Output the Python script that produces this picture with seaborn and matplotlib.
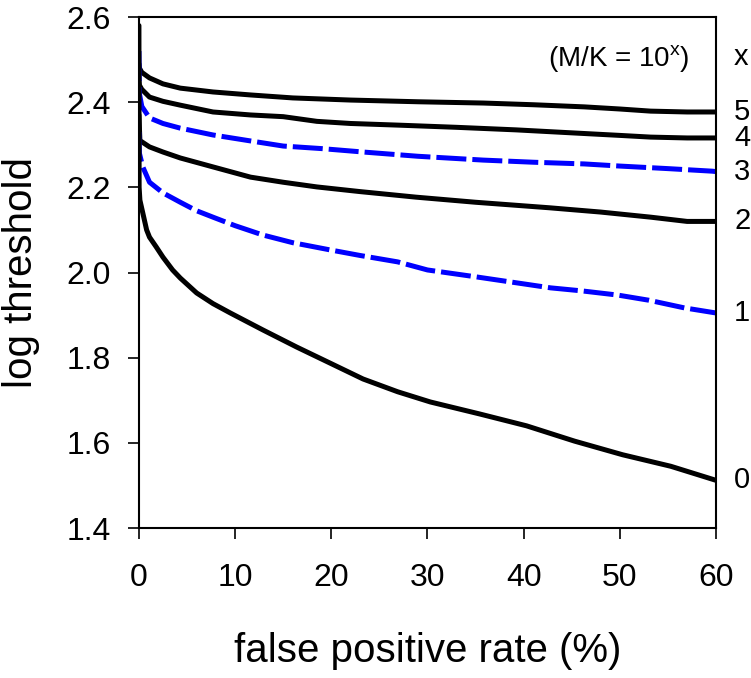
import numpy as np
import pandas as pd
import matplotlib
matplotlib.use("Agg")
import matplotlib.pyplot as plt
import seaborn as sns

# curves labelled by x, where M/K = 10^x
x5 = [0, 0.05, 0.3, 1.1, 2.5, 4.3, 7.7, 11.6, 16, 22, 29, 35.8, 41, 46.3, 50, 53.2, 57, 60]
y5 = [2.49, 2.48, 2.47, 2.457, 2.443, 2.433, 2.424, 2.417, 2.41, 2.405, 2.401, 2.398, 2.394, 2.389, 2.384, 2.379, 2.377, 2.377]

x4 = [0, 0.05, 0.3, 1.1, 2.5, 4.3, 7.7, 11.6, 15, 18.5, 22, 27.1, 33, 39.2, 45, 50, 53.2, 57, 60]
y4 = [2.45, 2.44, 2.43, 2.412, 2.402, 2.393, 2.377, 2.370, 2.366, 2.355, 2.350, 2.346, 2.341, 2.335, 2.328, 2.322, 2.318, 2.316, 2.316]

x3 = [0, 0.05, 0.3, 1.1, 2.5, 4.3, 7.7, 11.6, 15, 19, 23.3, 29, 35.8, 41, 46.3, 50, 55, 59.6, 60]
y3 = [2.52, 2.42, 2.39, 2.363, 2.35, 2.339, 2.323, 2.309, 2.297, 2.291, 2.283, 2.273, 2.264, 2.259, 2.255, 2.25, 2.244, 2.238, 2.237]

x2 = [0, 0.05, 0.1, 1.1, 2.5, 4.3, 7.7, 11.6, 15, 18.5, 23, 28.8, 35, 42.7, 48, 53.2, 57, 60]
y2 = [2.37, 2.34, 2.31, 2.295, 2.283, 2.269, 2.248, 2.224, 2.212, 2.201, 2.19, 2.177, 2.165, 2.152, 2.142, 2.13, 2.12, 2.12]

x1 = [0, 0.05, 0.4, 1.1, 2.5, 4.3, 6.0, 7.7, 10, 12.9, 16, 19.9, 23, 26.9, 30, 35, 38, 42.8, 46, 49.8, 53, 56.7, 60]
y1 = [2.33, 2.28, 2.248, 2.212, 2.187, 2.165, 2.145, 2.13, 2.11, 2.088, 2.07, 2.053, 2.04, 2.025, 2.006, 1.99, 1.98, 1.964, 1.957, 1.947, 1.935, 1.917, 1.905]

x0 = [0, 0.02, 0.1, 0.4, 0.8, 1.1, 1.8, 2.5, 3.5, 4.3, 6.0, 7.7, 9.5, 12.9, 16.4, 19.9, 23.3, 26.9, 30.3, 35.4, 40.3, 45.3, 50.3, 55.3, 60]
y0 = [2.58, 2.2, 2.17, 2.14, 2.1, 2.083, 2.06, 2.036, 2.006, 1.987, 1.952, 1.927, 1.905, 1.865, 1.825, 1.787, 1.75, 1.72, 1.696, 1.668, 1.64, 1.604, 1.572, 1.545, 1.512]

series_names = ["5", "4", "3", "2", "1", "0"]
series_x = [x5, x4, x3, x2, x1, x0]
series_y = [y5, y4, y3, y2, y1, y0]

colors = {"5": "black", "4": "black", "3": "#0000ff", "2": "black", "1": "#0000ff", "0": "black"}
dashes = {"5": "", "4": "", "3": (6, 1.2), "2": "", "1": (6, 1.2), "0": ""}

frames = []
for name, xs, ys in zip(series_names, series_x, series_y):
    frames.append(pd.DataFrame({"fpr": xs, "thr": ys, "x": name}))
df = pd.concat(frames, ignore_index=True)

sns.set_style("ticks")
plt.rcParams["font.family"] = ["Liberation Sans", "DejaVu Sans"]
plt.rcParams["mathtext.default"] = "regular"
plt.rcParams["text.color"] = "black"
plt.rcParams["axes.labelcolor"] = "black"
plt.rcParams["xtick.color"] = "black"
plt.rcParams["ytick.color"] = "black"

fig = plt.figure(figsize=(7.51, 6.78), dpi=100)
ax = fig.add_axes([0.185, 0.2212, 0.7684, 0.7537])

sns.lineplot(data=df, x="fpr", y="thr", hue="x", style="x", palette=colors,
             dashes=dashes, linewidth=3.6, estimator=None, sort=False,
             legend=False, ax=ax)

ax.set_xlim(0, 60)
ax.set_ylim(1.4, 2.6)
ax.set_xticks(np.arange(0, 61, 10))
ax.set_yticks(np.arange(1.4, 2.61, 0.2))
ax.set_yticklabels([f"{v:.1f}" for v in np.arange(1.4, 2.61, 0.2)])
ax.tick_params(axis="x", direction="out", length=8, width=1.2, pad=17, labelsize=23)
ax.tick_params(axis="y", direction="out", length=8, width=1.2, pad=12, labelsize=23)
for sp in ax.spines.values():
    sp.set_visible(True)
    sp.set_linewidth(1.5)
    sp.set_color("black")

ax.set_xlabel("false positive rate (%)", fontsize=29, labelpad=28)
ax.set_ylabel("log threshold", fontsize=29, labelpad=19)

# labels at the right end of each curve
for name, ys in zip(series_names, series_y):
    ax.annotate(name, xy=(60, ys[-1]), xytext=(13, 0), textcoords="offset points",
                ha="left", va="center", fontsize=21, annotation_clip=False)
ax.annotate("x", xy=(60, 2.505), xytext=(13, 0), textcoords="offset points",
            ha="left", va="center", fontsize=21, annotation_clip=False)
ax.text(49.9, 2.502, r"(M/K = 10$^{x}$)", ha="center", va="center", fontsize=20)

fig.savefig("out.png", dpi=100)
